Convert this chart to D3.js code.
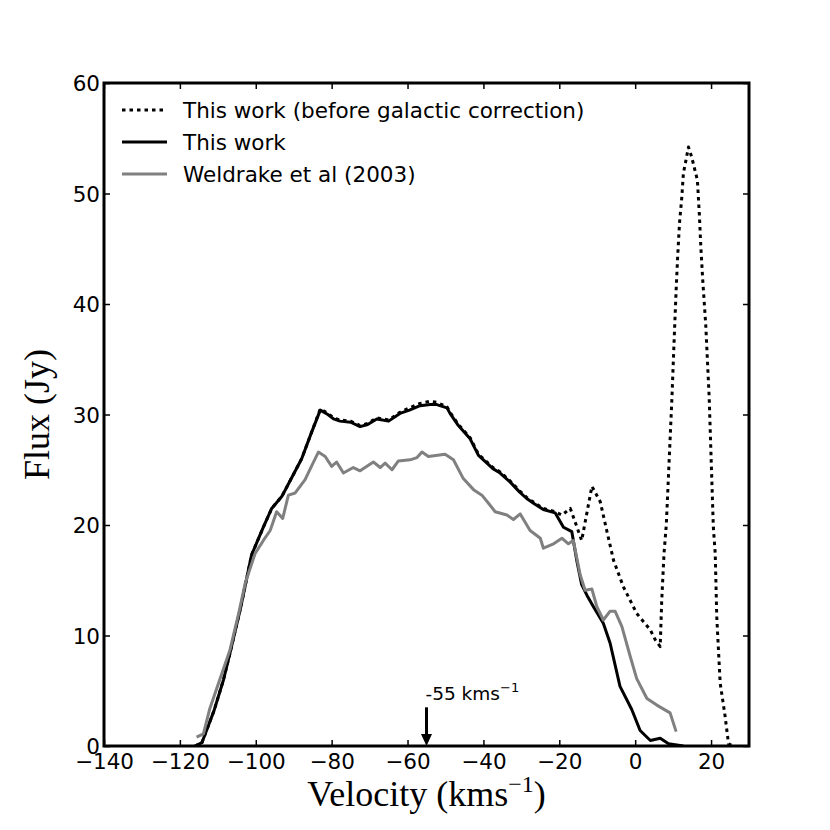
<!DOCTYPE html>
<html lang="en">
<head>
  <meta charset="UTF-8">
  <title>Flux vs Velocity</title>
  <style>
    body { margin: 0; background: #fff; }
    svg { display: block; }
    .tick text { font-family: "DejaVu Sans", sans-serif; font-size: 21.5px; fill: #000; }
    .legend text { font-family: "DejaVu Sans", sans-serif; font-size: 21.5px; }
    .axis-label { font-family: "Liberation Serif", serif; font-size: 36px; }
  </style>
  <script src="https://d3js.org/d3.v7.min.js"></script>
</head>
<body>
  <div id="chart"></div>
  <script>
  // This work (after galactic correction)
  const vThisWork = [-116, -114.2, -111, -108.5, -106.8, -104, -101.1, -98, -95.8, -93.1,
    -90.5, -87.9, -85.5, -83.0, -81, -79.5, -77.8, -75, -72.5, -70.5, -68.1, -65.0, -62.0,
    -59.5, -56.7, -54, -52.3, -49.6, -48.8, -46.6, -43.5, -41.3, -40.0, -37.5, -35.6, -33.0,
    -30.5, -28.6, -26.5, -24.2, -21.1, -18.9, -16.7, -15.4, -14.1, -12.5, -11.0, -8.4, -6.6,
    -4.0, -0.9, 1.3, 4.0, 6.6, 8.8, 12.7];
  const fThisWork = [0, 0.3, 3.2, 6.0, 8.4, 12.5, 17.3, 19.8, 21.5, 22.6,
    24.3, 26.0, 28.2, 30.4, 30.0, 29.6, 29.4, 29.3, 28.9, 29.1, 29.6, 29.4, 30.1,
    30.4, 30.8, 30.9, 30.9, 30.6, 30.1, 29.0, 27.8, 26.3, 25.9, 25.1, 24.7, 23.9,
    23.0, 22.4, 21.9, 21.4, 21.1, 19.8, 19.4, 16.8, 14.6, 13.5, 12.6, 11.1, 9.3,
    5.4, 3.3, 1.4, 0.5, 0.7, 0.2, 0];

  // This work before galactic correction
  const vBefore = [-116, -114.2, -111, -108.5, -106.8, -104, -101.1, -98, -95.8, -93.1,
    -90.5, -87.9, -85.5, -83.0, -81, -79.5, -77.8, -75, -72.5, -70.5, -68.1, -65.0, -62.0,
    -59.5, -56.7, -54, -52.3, -49.6, -48.8, -46.6, -43.5, -41.3, -40.0, -37.5, -35.6, -33.0,
    -30.5, -28.6, -26.5, -24.2, -21.1, -19.3, -17.1, -14.1, -11.4, -9.2, -7.5, -5.7, -3.1,
    0.4, 4.0, 5.3, 6.6, 7.0, 7.6, 8.2, 9.0, 9.7, 10.4, 10.8, 11.2, 11.7, 12.3, 12.7, 14.05,
    14.9, 16.4, 16.9, 17.3, 17.8, 18.6, 19.5, 20.0, 20.6, 21.1, 21.5, 22.4, 23.7, 24.6, 25.9];
  const fBefore = [0, 0.3, 3.2, 6.0, 8.4, 12.5, 17.3, 19.8, 21.5, 22.6,
    24.3, 26.0, 28.2, 30.5, 30.1, 29.7, 29.5, 29.4, 29.0, 29.2, 29.7, 29.5, 30.2,
    30.6, 31.0, 31.2, 31.1, 30.7, 30.2, 29.1, 27.9, 26.4, 26.0, 25.2, 24.8, 24.0,
    23.1, 22.5, 22.0, 21.5, 21.2, 20.9, 21.5, 18.6, 23.5, 22.1, 19.5, 16.8, 14.4,
    12.0, 10.5, 9.6, 9.0, 13.2, 17.4, 20.0, 26.2, 31.6, 37.9, 41.3, 44.3, 47.4, 49.7, 51.8, 54.2,
    53.3, 51.2, 48.2, 45.2, 42.2, 38.1, 31.6, 26.2, 19.8, 17.4, 11.7, 5.7, 2.7, 0.2, 0];

  // Weldrake et al (2003)
  const vWeldrake = [-115.6, -113.8, -112.1, -109.5, -106.8, -104.5, -102.8, -100.2, -98, -96.2,
    -94.5, -92.9, -91.4, -89.6, -87.0, -85.2, -83.5, -81.7, -80.0, -78.7, -76.9, -74.3, -72.5,
    -69.0, -67.2, -65.9, -64.1, -62.4, -59.3, -57.5, -56.2, -54.5, -50.1, -47.9, -45.3, -42.6,
    -40.4, -38.5, -36.9, -33.8, -32.1, -30.3, -27.7, -25.0, -24.2, -21.5, -19.3, -17.6, -16.3,
    -14.5, -13.2, -11.4, -10.1, -8.4, -6.6, -5.3, -3.5, -1.3, 0.4, 3.1, 5.7, 9.2, 10.8];
  const fWeldrake = [0.8, 1.1, 3.4, 6.0, 8.7, 12.0, 14.7, 17.4, 18.6, 19.5,
    21.2, 20.6, 22.7, 22.9, 24.1, 25.4, 26.6, 26.2, 25.3, 25.7, 24.7, 25.2, 24.9,
    25.7, 25.2, 25.6, 25.0, 25.8, 25.9, 26.1, 26.6, 26.2, 26.4, 25.9, 24.2, 23.2,
    22.7, 21.9, 21.2, 20.9, 20.5, 21.0, 19.5, 18.8, 17.9, 18.3, 18.8, 18.3, 18.6,
    15.5, 14.1, 14.2, 12.6, 11.4, 12.2, 12.2, 10.8, 8.1, 6.1, 4.3, 3.7, 3.0, 1.3];

  const xTicks = [-140, -120, -100, -80, -60, -40, -20, 0, 20];
  const yTicks = [0, 10, 20, 30, 40, 50, 60];
  const arrowV = -55, arrowTop = 3.5;

  const series = [
    { label: 'This work (before galactic correction)', v: vBefore, f: fBefore, color: '#000', dash: '3.5,4' },
    { label: 'This work', v: vThisWork, f: fThisWork, color: '#000', dash: null },
    { label: 'Weldrake et al (2003)', v: vWeldrake, f: fWeldrake, color: '#808080', dash: null }
  ];

  const W = 830, H = 830;
  const m = { t: 83, r: 81, b: 84, l: 104 };
  const iw = W - m.l - m.r, ih = H - m.t - m.b;

  const svg = d3.select('#chart').append('svg').attr('width', W).attr('height', H);
  const g = svg.append('g').attr('transform', `translate(${m.l},${m.t})`);

  const x = d3.scaleLinear().domain([-140, 30]).range([0, iw]);
  const y = d3.scaleLinear().domain([0, 60]).range([ih, 0]);
  const fmt = d => d < 0 ? '\u2212' + Math.abs(d) : String(d);

  // clip so lines stay inside frame
  g.append('clipPath').attr('id', 'clip')
    .append('rect').attr('width', iw).attr('height', ih);

  const line = d3.line().x(d => x(d[0])).y(d => y(d[1]));
  const plot = g.append('g').attr('clip-path', 'url(#clip)');
  series.forEach(s => {
    plot.append('path')
      .datum(s.v.map((v, i) => [v, s.f[i]]))
      .attr('d', line)
      .attr('fill', 'none')
      .attr('stroke', s.color)
      .attr('stroke-width', 3)
      .attr('stroke-linejoin', 'round')
      .attr('stroke-dasharray', s.dash);
  });

  // axes, ticks pointing inward
  const tl = 6;
  const xb = g.append('g').attr('transform', `translate(0,${ih})`)
    .call(d3.axisBottom(x).tickValues(xTicks).tickFormat(fmt).tickSizeInner(-tl).tickSizeOuter(0).tickPadding(8));
  const xt = g.append('g')
    .call(d3.axisTop(x).tickValues(xTicks).tickFormat('').tickSizeInner(-tl).tickSizeOuter(0));
  const yl = g.append('g')
    .call(d3.axisLeft(y).tickValues(yTicks).tickFormat(d3.format('d')).tickSizeInner(-tl).tickSizeOuter(0).tickPadding(4));
  const yr = g.append('g').attr('transform', `translate(${iw},0)`)
    .call(d3.axisRight(y).tickValues(yTicks).tickFormat('').tickSizeInner(-tl).tickSizeOuter(0));
  [xb, xt, yl, yr].forEach(a => {
    a.select('.domain').remove();
    a.selectAll('.tick line').attr('stroke', '#000').attr('stroke-width', 1.5);
  });
  yl.selectAll('.tick text').attr('dy', '0.36em');

  // frame
  g.append('rect').attr('width', iw).attr('height', ih)
    .attr('fill', 'none').attr('stroke', '#000').attr('stroke-width', 3);

  // annotation arrow
  const ax = x(arrowV);
  g.append('line')
    .attr('x1', ax).attr('x2', ax)
    .attr('y1', y(arrowTop)).attr('y2', y(0) - 9)
    .attr('stroke', '#000').attr('stroke-width', 3);
  g.append('path')
    .attr('d', `M${ax - 5.5},${y(0) - 12} L${ax + 5.5},${y(0) - 12} L${ax},${y(0)} Z`)
    .attr('fill', '#000');
  const ann = g.append('text')
    .attr('x', ax - 1).attr('y', y(arrowTop) - 7)
    .style('font-family', '"DejaVu Sans", sans-serif').style('font-size', '18.5px');
  ann.append('tspan').text('-55 kms');
  ann.append('tspan').attr('dy', -8).style('font-size', '13px').text('\u22121');

  // legend
  const leg = g.append('g').attr('class', 'legend').attr('transform', 'translate(18,27)');
  series.forEach((s, i) => {
    const row = leg.append('g').attr('transform', `translate(0,${i * 32})`);
    row.append('line').attr('x1', 0).attr('x2', 45).attr('y1', 0).attr('y2', 0)
      .attr('stroke', s.color).attr('stroke-width', 3).attr('stroke-dasharray', s.dash);
    row.append('text').attr('x', 61).attr('y', 0).attr('dy', '0.36em').text(s.label);
  });

  // axis labels
  const xlab = svg.append('text').attr('class', 'axis-label')
    .attr('x', m.l + iw / 2).attr('y', 806).attr('text-anchor', 'middle');
  xlab.append('tspan').text('Velocity (kms');
  xlab.append('tspan').attr('dy', -14).style('font-size', '24px').text('\u22121');
  xlab.append('tspan').attr('dy', 14).text(')');

  svg.append('text').attr('class', 'axis-label')
    .attr('transform', `translate(49,${m.t + ih / 2}) rotate(-90)`)
    .attr('text-anchor', 'middle')
    .text('Flux (Jy)');
  </script>
</body>
</html>
